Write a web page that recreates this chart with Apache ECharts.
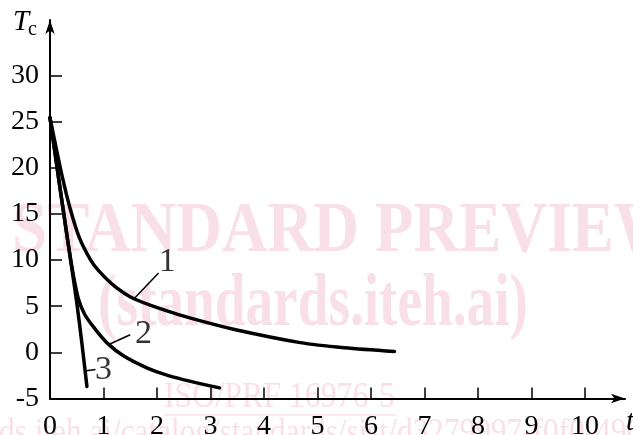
<!DOCTYPE html>
<html><head><meta charset="utf-8">
<script src="https://cdn.jsdelivr.net/npm/echarts@6/dist/echarts.min.js"></script>
<style>html,body{margin:0;padding:0;background:#fff}#c{width:633px;height:435px}</style>
</head><body><div id="c"></div>
<script>
// ---- data ----
const xTicks = [0, 1, 2, 3, 4, 5, 6, 7, 8, 9, 10];
const yTicks = [-5, 0, 5, 10, 15, 20, 25, 30];
const curve1 = [[0,25.4],[0.23,19.0],[0.38,15.5],[0.55,12.4],[0.75,10.1],[0.9,8.9],[1.2,7.2],[1.57,5.8],[2.13,4.6],[2.63,3.7],[3.43,2.5],[4.68,1.05],[5.5,0.5],[6.44,0.1]];
const curve2 = [[0,25.4],[0.3,13.3],[0.42,8.9],[0.53,5.8],[0.65,4.1],[0.82,2.7],[1.07,1.0],[1.38,-0.4],[1.82,-1.7],[2.2,-2.5],[2.63,-3.15],[3.17,-3.85]];
const curve3 = [[0,25.4],[0.2,17.3],[0.4,9.4],[0.5,5.4],[0.6,0.8],[0.69,-3.7]];
const curveNames = ['1', '2', '3'];
const labelPos = [[2.19,9.8],[1.75,2.0],[1.0,-1.95]];
const leader1 = [[1.57,5.8],[2.03,8.6]];
const leader2 = [[1.1,0.85],[1.5,1.9]];
const leader3 = [[0.68,-2.0],[0.85,-1.85]];
const xName = 't';
const yName = 'T';
const ySub = 'c';
const wmLine1 = 'STANDARD PREVIEW';
const wmLine2 = '(standards.iteh.ai)';
const wmLine3 = 'ISO/PRF 16976-5';
const wmLine4 = 'ds.iteh.ai/catalog/standards/sist/d3279997-f0f0-4900';

// ---- helpers ----
const mctx = document.createElement('canvas').getContext('2d');
function fit(text, font, target) { mctx.font = font; return target / mctx.measureText(text).width; }
const SERIF = '"Liberation Serif", "Times New Roman", serif';
const wm = '#f9e0e8';
const f1 = 'bold 72px ' + SERIF;
const f2 = 'bold 75px ' + SERIF;
const f3 = '36px ' + SERIF;
const f4 = '36px ' + SERIF;

const chart = echarts.init(document.getElementById('c'));
const lineSeries = (d, w) => ({ type: 'line', data: d, symbol: 'none', smooth: 0.3,
  lineStyle: { color: '#000', width: w, cap: 'round', join: 'round' }, z: 3, silent: true });

chart.setOption({
  animation: false,
  backgroundColor: '#fff',
  grid: { left: 50, right: 8, top: 20, bottom: 36.5, containLabel: false, outerBoundsMode: 'none' },
  xAxis: {
    type: 'value', min: 0, max: 10.75, interval: 1,
    axisLine: { onZero: false, lineStyle: { color: '#000', width: 2 }, symbol: ['none', 'arrow'], symbolSize: [7, 14] },
    axisTick: { inside: true, length: 11, lineStyle: { color: '#000', width: 1.5 }, customValues: xTicks },
    axisLabel: { customValues: xTicks, margin: 14, color: '#000', fontFamily: SERIF, fontSize: 28 },
    splitLine: { show: false }
  },
  yAxis: {
    type: 'value', min: -5, max: 36, interval: 5,
    axisLine: { onZero: false, lineStyle: { color: '#000', width: 2 }, symbol: ['none', 'arrow'], symbolSize: [7, 14] },
    axisTick: { inside: true, length: 12, lineStyle: { color: '#000', width: 1.5 }, customValues: yTicks },
    axisLabel: { customValues: yTicks, margin: 11, color: '#000', fontFamily: SERIF, fontSize: 28 },
    splitLine: { show: false }
  },
  graphic: [
    { type: 'text', x: 12, y: 232, scaleX: fit('STANDARD', f1, 347), z: -10, silent: true,
      style: { text: wmLine1, font: f1, fill: wm, align: 'left', verticalAlign: 'middle' } },
    { type: 'text', x: 98, y: 306, scaleX: fit(wmLine2, f2, 430), z: -10, silent: true,
      style: { text: wmLine2, font: f2, fill: wm, align: 'left', verticalAlign: 'middle' } },
    { type: 'text', x: 164, y: 398, scaleX: fit(wmLine3, f3, 231), z: -10, silent: true,
      style: { text: wmLine3, font: f3, fill: wm, align: 'left', verticalAlign: 'middle' } },
    { type: 'line', z: -10, silent: true, shape: { x1: 164, y1: 415, x2: 396, y2: 415 }, style: { stroke: wm, lineWidth: 1.5 } },
    { type: 'text', x: -1, y: 434, scaleX: fit('ds.iteh.ai/catalog/standards/sist/', f4, 398), z: -10, silent: true,
      style: { text: wmLine4, font: f4, fill: wm, align: 'left', verticalAlign: 'middle' } },
    { type: 'text', x: 13, y: 22, z: 10, silent: true,
      style: { text: yName, font: 'italic 29px ' + SERIF, fill: '#000', align: 'left', verticalAlign: 'middle' } },
    { type: 'text', x: 28, y: 30, z: 10, silent: true,
      style: { text: ySub, font: '20px ' + SERIF, fill: '#000', align: 'left', verticalAlign: 'middle' } },
    { type: 'text', x: 626, y: 422, z: 10, silent: true,
      style: { text: xName, font: 'italic 29px ' + SERIF, fill: '#000', align: 'left', verticalAlign: 'middle' } }
  ],
  series: [
    lineSeries(curve1, 3.5),
    lineSeries(curve2, 3.5),
    lineSeries(curve3, 3.5),
    { type: 'line', data: leader1, symbol: 'none', lineStyle: { color: '#000', width: 1.5 }, silent: true },
    { type: 'line', data: leader2, symbol: 'none', lineStyle: { color: '#000', width: 1.5 }, silent: true },
    { type: 'line', data: leader3, symbol: 'none', lineStyle: { color: '#000', width: 1.5 }, silent: true },
    { type: 'scatter', symbolSize: 0, silent: true,
      data: labelPos.map((p, i) => ({ value: p, name: curveNames[i] })),
      label: { show: true, position: 'inside', formatter: '{b}', color: '#000', fontFamily: SERIF, fontSize: 34 } }
  ]
});
</script></body></html>
